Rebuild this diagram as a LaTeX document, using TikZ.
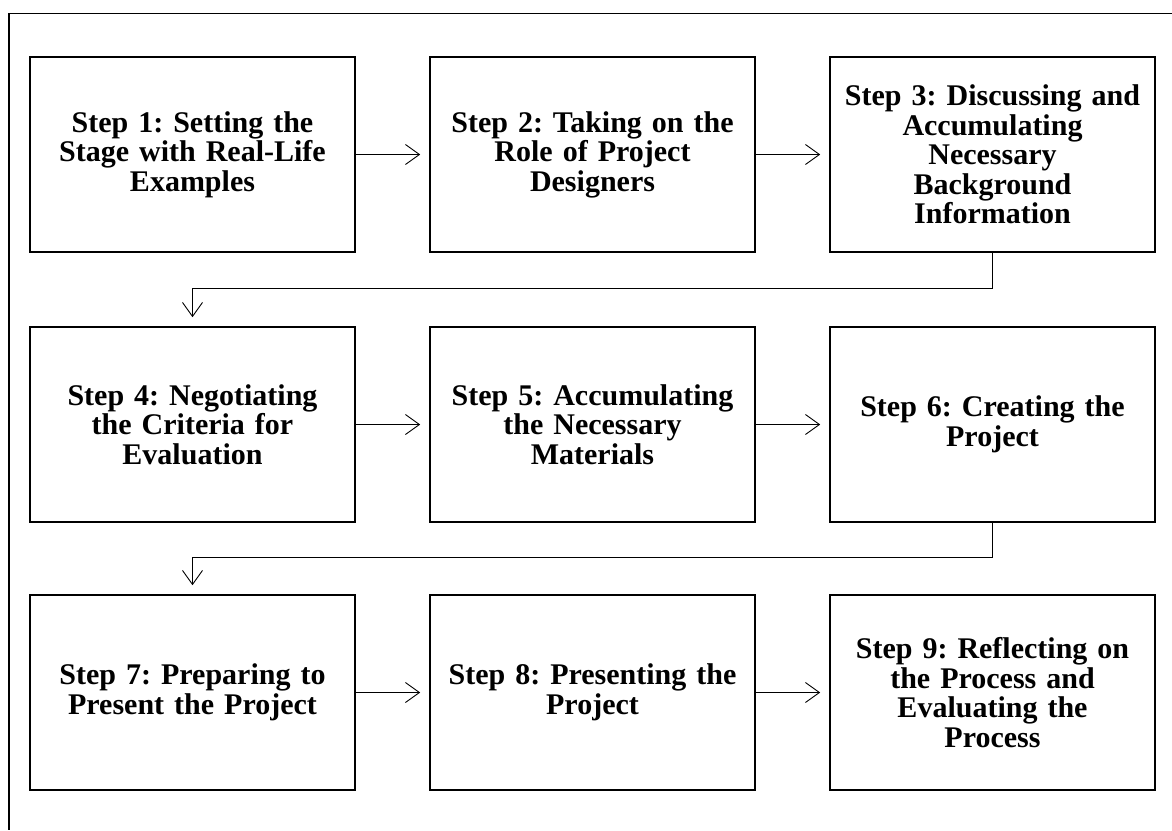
\documentclass[tikz,border=0pt]{standalone}
\usepackage{fontspec}
\setmainfont{Liberation Serif}
\usetikzlibrary{arrows.meta}
\usetikzlibrary{calc}

\tikzset{
  stepbox/.style={draw, line width=1.6pt, minimum width=325pt, minimum height=195pt,
    text width=318pt, align=center, inner sep=0pt,
    font=\fontsize{30}{29.5}\selectfont\bfseries\frenchspacing},
  flow/.style={line width=0.9pt, shorten >=9pt, -{Straight Barb[length=14pt, width=20pt, line width=0.9pt]}}
}

\begin{document}
\begin{tikzpicture}[x=1pt, y=-1pt, line cap=round]
    \useasboundingbox (0,0) rectangle (1172,830);
    \draw[line width=1.5pt, line cap=butt] (1172,13.5) -- (9,13.5) -- (9,830);

    \node[stepbox] (s1) at (192.5,154.5) {Step 1: Setting the\\ Stage with Real-Life\\ Examples};
    \node[stepbox] (s2) at (592.5,154.5) {Step 2: Taking on the\\ Role of Project\\ Designers};
    \node[stepbox] (s3) at (992.5,154.5) {Step 3: Discussing and\\ Accumulating\\ Necessary\\ Background\\ Information};

    \node[stepbox] (s4) at (192.5,424.5) {Step 4: Negotiating\\ the Criteria for\\ Evaluation};
    \node[stepbox] (s5) at (592.5,424.5) {Step 5: Accumulating\\ the Necessary\\ Materials};
    \node[stepbox] (s6) at (992.5,424.5) {Step 6: Creating the\\ Project};

    \node[stepbox] (s7) at (192.5,692.5) {Step 7: Preparing to\\ Present the Project};
    \node[stepbox] (s8) at (592.5,692.5) {Step 8: Presenting the\\ Project};
    \node[stepbox] (s9) at (992.5,692.5) {Step 9: Reflecting on\\ the Process and\\ Evaluating the\\ Process};

    % across each row
    \draw[flow] (s1) -- (s2);
    \draw[flow] (s2) -- (s3);
    \draw[flow] (s4) -- (s5);
    \draw[flow] (s5) -- (s6);
    \draw[flow] (s7) -- (s8);
    \draw[flow] (s8) -- (s9);

    % down to the next row
    \coordinate (r1) at ($(s3.south)+(0,36)$);
    \coordinate (r2) at ($(s6.south)+(0,35)$);
    \draw[flow] (s3.south) -- (r1) -| (s4.north);
    \draw[flow] (s6.south) -- (r2) -| (s7.north);
\end{tikzpicture}
\end{document}
